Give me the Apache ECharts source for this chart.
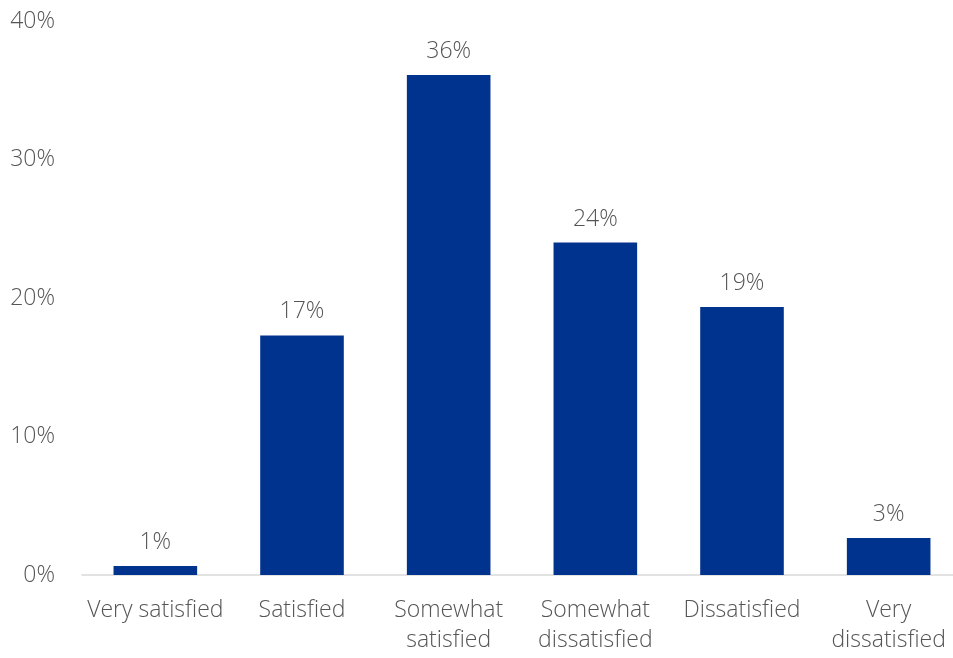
<!DOCTYPE html>
<html><head><meta charset="utf-8">
<script src="https://cdn.jsdelivr.net/npm/echarts@6/dist/echarts.min.js"></script>
<style>html,body{margin:0;padding:0;background:#fff;overflow:hidden}#c{width:980px;height:658px}</style>
</head><body><div id="c"></div>
<script>
const categories = ['Very satisfied', 'Satisfied', 'Somewhat\nsatisfied', 'Somewhat\ndissatisfied', 'Dissatisfied', 'Very\ndissatisfied'];
const values = [0.65, 17.3, 36.1, 24.0, 19.35, 2.67];
const yTicks = [0, 10, 20, 30, 40];

const FONT = '"Open Sans", sans-serif';
const chart = echarts.init(document.getElementById('c'));
chart.setOption({
  animation: false,
  grid: { left: 82, right: 18, top: 21, bottom: 83, containLabel: false },
  xAxis: {
    type: 'category', data: categories,
    axisTick: { show: false },
    axisLine: { lineStyle: { color: '#d9d9d9', width: 1.5 } },
    axisLabel: { color: '#555555', fontFamily: FONT, fontWeight: 300, fontSize: 23, lineHeight: 30, margin: 20, interval: 0 }
  },
  yAxis: {
    type: 'value', min: yTicks[0], max: yTicks[yTicks.length - 1], interval: 10,
    splitLine: { show: false }, axisLine: { show: false }, axisTick: { show: false },
    axisLabel: { color: '#555555', fontFamily: FONT, fontWeight: 300, fontSize: 23, margin: 27, formatter: v => v + '%' }
  },
  series: [{
    type: 'bar', data: values, barWidth: '57%',
    itemStyle: { color: '#00338D' },
    label: { show: true, position: 'top', distance: 12, color: '#555555', fontFamily: FONT, fontWeight: 300, fontSize: 23,
      formatter: p => Math.round(p.value) + '%' }
  }]
});
</script></body></html>
